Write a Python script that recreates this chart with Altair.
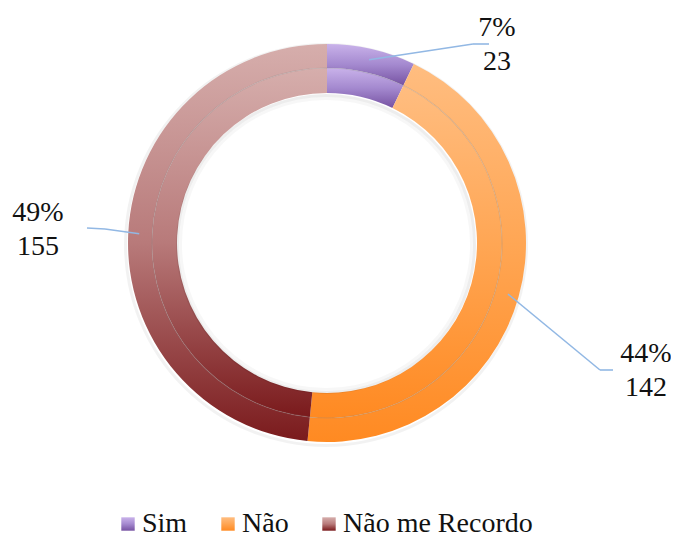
import math
import altair as alt
import pandas as pd

# ---- data ----
categories = ["Sim", "Não", "Não me Recordo"]
counts = [23, 142, 155]
percent_labels = ["7%", "44%", "49%"]

# gradient stops per category (top -> bottom)
grad_top = ["#c9b2ea", "#ffbd80", "#d6aeac"]
grad_mid = ["#a489cf", "#ffa552", "#b87a7a"]
grad_bot = ["#7652a2", "#ff8a22", "#7a1a1c"]

# ---- layout (view pixels) ----
CX, CY = 319, 235
R_OUT, R_MID, R_IN = 199, 175, 150
label_x = [489, 638, 30]
label_y = [20, 346, 205]
elbow_x = [465, 592, 97]
elbow_y = [36, 362, 221]
end_x = [481, 605, 79]
end_y = [36, 362, 220]

df = pd.DataFrame({
    "category": categories,
    "count": counts,
    "pct": percent_labels,
    "order": list(range(len(categories))),
    "lx": label_x, "ly": label_y,
    "ex": elbow_x, "ey": elbow_y,
    "tx": end_x, "ty": end_y,
})


def grad_expr(t, m, b):
    return {"expr": "{gradient:'linear',x1:0,y1:0,x2:0,y2:1,stops:["
                    f"{{offset:0,color:'{t}'}},{{offset:0.5,color:'{m}'}},{{offset:1,color:'{b}'}}]}}"}


color_scale = alt.Scale(
    domain=categories,
    range=[grad_expr(t, m, b) for t, m, b in zip(grad_top, grad_mid, grad_bot)],
)
theta_scale = alt.Scale(domain=[0, 1], range=[0, 2 * math.pi])

base = (
    alt.Chart(df)
    .transform_joinaggregate(total="sum(count)")
    .transform_window(cum="sum(count)", sort=[alt.SortField("order")], frame=[None, 0])
    .transform_calculate(
        start="(datum.cum - datum.count) / datum.total",
        end="datum.cum / datum.total",
        mid="(datum.cum - datum.count / 2) / datum.total",
    )
)

legend = alt.Legend(
    title=None,
    orient="none",
    legendX=106,
    legendY=502,
    direction="horizontal",
    symbolType="square",
    symbolSize=180,
    symbolStrokeWidth=0,
    labelFont="Liberation Serif",
    labelFontSize=28,
    labelColor="#111111",
    labelOffset=0,
    labelLimit=400,
    columnPadding=26,
)

outer = base.mark_arc(outerRadius=R_OUT, innerRadius=R_MID).encode(
    theta=alt.Theta("start:Q", scale=theta_scale),
    theta2="end:Q",
    color=alt.Color("category:N", scale=color_scale, legend=legend),
    x=alt.value(CX),
    y=alt.value(CY),
)
inner = base.mark_arc(outerRadius=R_MID, innerRadius=R_IN).encode(
    theta=alt.Theta("start:Q", scale=theta_scale),
    theta2="end:Q",
    color=alt.Color("category:N", scale=color_scale, legend=None),
    x=alt.value(CX),
    y=alt.value(CY),
)

one = base.transform_filter("datum.order == 0")
separator = one.mark_arc(
    outerRadius=R_MID + 0.6, innerRadius=R_MID - 0.6, color="#8a8a8a", opacity=0.3
).encode(theta=alt.value(0), theta2=alt.value(2 * math.pi), x=alt.value(CX), y=alt.value(CY))
shadow_in1 = one.mark_arc(
    outerRadius=R_IN, innerRadius=R_IN - 3, color="#000000", opacity=0.07
).encode(theta=alt.value(0), theta2=alt.value(2 * math.pi), x=alt.value(CX - 1), y=alt.value(CY + 1))
shadow_in2 = one.mark_arc(
    outerRadius=R_IN - 3, innerRadius=R_IN - 6, color="#000000", opacity=0.03
).encode(theta=alt.value(0), theta2=alt.value(2 * math.pi), x=alt.value(CX - 1), y=alt.value(CY + 1))
shadow_out = one.mark_arc(
    outerRadius=R_OUT + 3, innerRadius=R_OUT, color="#000000", opacity=0.05
).encode(theta=alt.value(0), theta2=alt.value(2 * math.pi), x=alt.value(CX - 1), y=alt.value(CY + 2))

lead = base.transform_calculate(
    ix=f"{CX} + 188 * sin(2 * PI * datum.mid)",
    iy=f"{CY} - 188 * cos(2 * PI * datum.mid)",
)
rule1 = lead.mark_rule(color="#92b8e4", strokeWidth=1.6).encode(
    x=alt.X("ix:Q", scale=None), y=alt.Y("iy:Q", scale=None),
    x2="ex:Q", y2="ey:Q",
)
rule2 = lead.mark_rule(color="#92b8e4", strokeWidth=1.6).encode(
    x=alt.X("ex:Q", scale=None), y=alt.Y("ey:Q", scale=None),
    x2="tx:Q", y2="ty:Q",
)

labels = base.transform_calculate(
    label="datum.pct + '\\n' + datum.count"
).mark_text(
    font="Liberation Serif", fontSize=28, align="center", baseline="middle",
    lineHeight=34, lineBreak="\n", color="#111111",
).encode(
    x=alt.X("lx:Q", scale=None), y=alt.Y("ly:Q", scale=None), text="label:N"
)

chart = alt.layer(
    shadow_out, outer, inner, separator, shadow_in1, shadow_in2, rule1, rule2, labels
).properties(
    width=663, height=529, padding=0, autosize=alt.AutoSizeParams(type="none"),
    background="white",
).configure_view(stroke=None)

chart.save("out.html", embed_options={"renderer": "svg", "actions": False})
